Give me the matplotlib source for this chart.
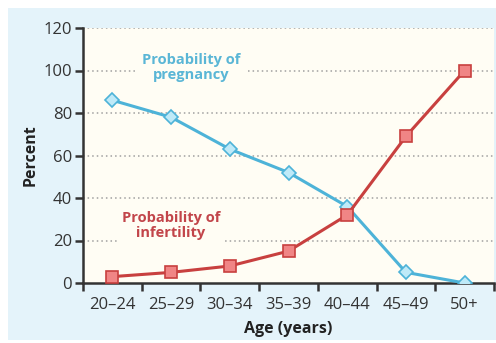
import matplotlib.pyplot as plt
from matplotlib.patches import Rectangle

# Data
ages = ["20\u201324", "25\u201329", "30\u201334", "35\u201339", "40\u201344", "45\u201349", "50+"]
pregnancy = [86, 78, 63, 52, 36, 5, 0]
infertility = [3, 5, 8, 15, 32, 69, 100]
y_ticks = [0, 20, 40, 60, 80, 100, 120]

plt.rcParams["font.family"] = ["Open Sans", "DejaVu Sans"]

blue = "#4db3d8"
red = "#c8403f"

fig = plt.figure(figsize=(4.96, 3.43), dpi=100, facecolor="white")
# light blue panel behind the chart
fig.patches.append(Rectangle((8 / 496, 3 / 343), 488 / 496, 332 / 343,
                             transform=fig.transFigure, facecolor="#e4f3fa",
                             edgecolor="none", zorder=-10))

ax = fig.add_axes([83 / 496, 60 / 343, 411 / 496, 255 / 343])
ax.set_facecolor("#fffdf4")

x = list(range(len(ages)))

# dotted grid
for v in y_ticks[1:]:
    ax.axhline(v, color="#a0a0a0", linestyle=(0, (1, 2)), linewidth=1.1, zorder=1)

ax.plot(x, pregnancy, color=blue, linewidth=2.2, marker="D", markersize=7,
        markerfacecolor="#bfeaf8", markeredgecolor=blue, markeredgewidth=1.2, zorder=3)
ax.plot(x, infertility, color=red, linewidth=2.2, marker="s", markersize=8,
        markerfacecolor="#f08585", markeredgecolor=red, markeredgewidth=1.2, zorder=4)

ax.text(1.35, 101.5, "Probability of\npregnancy", color="#5ab6d6", fontsize=10.5,
        fontweight="bold", ha="center", va="center", linespacing=1.1, zorder=2,
        bbox=dict(facecolor="#fffdf4", edgecolor="none", pad=3))
ax.text(1.0, 27, "Probability of\ninfertility", color="#c2454a", fontsize=10.5,
        fontweight="bold", ha="center", va="center", linespacing=1.1, zorder=2,
        bbox=dict(facecolor="#fffdf4", edgecolor="none", pad=3))

ax.set_xlim(-0.5, 6.5)
ax.set_ylim(0, 120)
ax.set_yticks(y_ticks)
ax.set_yticklabels([str(v) for v in y_ticks])
ax.set_xticks(x)
ax.set_xticklabels(ages)
ax.set_xticks([i - 0.5 for i in range(len(ages) + 1)], minor=True)
ax.tick_params(axis="x", which="major", length=0, pad=10, labelsize=12, colors="#333333")
ax.tick_params(axis="x", which="minor", length=6, width=1.8, color="#333333")
ax.tick_params(axis="y", length=6, width=1.8, pad=2, labelsize=12, colors="#333333")

for side in ["top", "right"]:
    ax.spines[side].set_visible(False)
for side in ["left", "bottom"]:
    ax.spines[side].set_linewidth(1.8)
    ax.spines[side].set_color("#333333")

ax.set_xlabel("Age (years)", fontsize=11.5, fontweight="bold", color="#222222", labelpad=6)
ax.set_ylabel("Percent", fontsize=11.5, fontweight="bold", color="#222222", labelpad=3)

plt.savefig("out.png", dpi=100, facecolor=fig.get_facecolor())
